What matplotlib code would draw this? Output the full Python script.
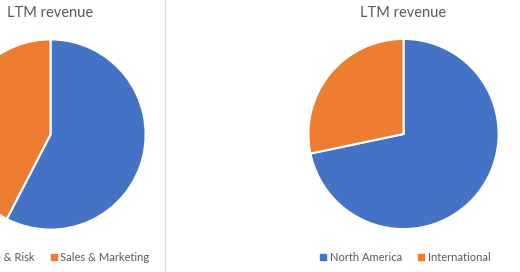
import matplotlib
matplotlib.use("Agg")
import matplotlib.pyplot as plt
from matplotlib.lines import Line2D

# data
seg_labels = ["Compliance & Risk", "Sales & Marketing"]
seg_share = [57.6, 42.4]
geo_labels = ["North America", "International"]
geo_share = [71.7, 28.3]
colors = ["#4472C4", "#ED7D31"]
title = "LTM revenue"

W, H = 520, 272
plt.rcParams["font.family"] = ["Lato", "DejaVu Sans"]
text_grey = "#595959"

fig = plt.figure(figsize=(W / 100, H / 100), dpi=100)


def pie_axes(cx, cy, r):
    # cx, cy, r in pixels, cy measured from the top
    return fig.add_axes([(cx - r) / W, (H - cy - r) / H, 2 * r / W, 2 * r / H])


def draw_pie(ax, shares):
    ax.pie(shares, colors=colors, startangle=90, counterclock=False,
           wedgeprops=dict(edgecolor="white", linewidth=1.5))
    ax.set_xlim(-1.02, 1.02)
    ax.set_ylim(-1.02, 1.02)
    ax.set_aspect("equal")
    ax.axis("off")


def legend_handles(labels):
    return [Line2D([], [], marker="s", linestyle="", markersize=4,
                   color=c, label=l) for c, l in zip(colors, labels)]


ax1 = pie_axes(50.5, 134.5, 97)
draw_pie(ax1, seg_share)
ax2 = pie_axes(403.5, 134, 97)
draw_pie(ax2, geo_share)

# titles
fig.text(50 / W, 1 - 16.7 / H, title, ha="center", va="baseline",
         fontsize=10.5, color=text_grey)
fig.text(403 / W, 1 - 16.7 / H, title, ha="center", va="baseline",
         fontsize=10.5, color=text_grey)

# legends
leg_kw = dict(ncol=2, frameon=False, fontsize=8, labelcolor=text_grey,
              handletextpad=0.2, columnspacing=1.3, borderpad=0,
              borderaxespad=0, handlelength=0.8)
fig.legend(handles=legend_handles(seg_labels), loc="center right",
           bbox_to_anchor=(149.5 / W, 1 - 257.5 / H), **leg_kw)
fig.legend(handles=legend_handles(geo_labels), loc="center",
           bbox_to_anchor=(404.5 / W, 1 - 257.5 / H), **leg_kw)

# panel separator
fig.add_artist(Line2D([164.5 / W, 164.5 / W], [0, 1], color="#d9d9d9",
                      linewidth=1))

fig.savefig("out.png", dpi=100)
